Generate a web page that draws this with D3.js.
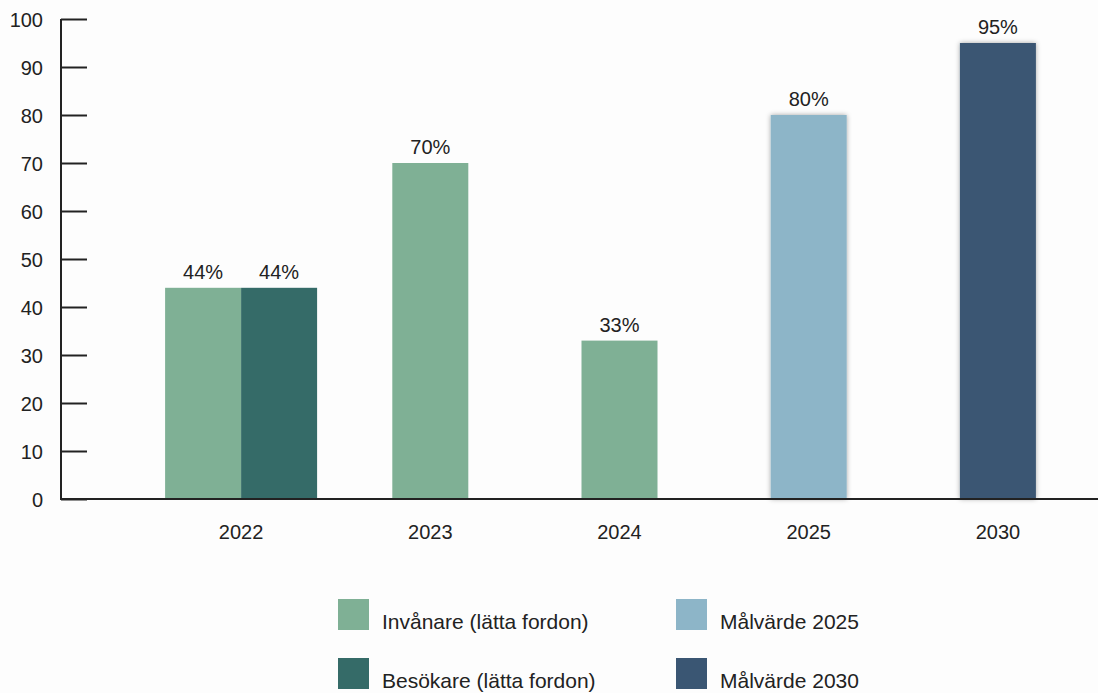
<!DOCTYPE html>
<html>
<head>
<meta charset="utf-8">
<script src="https://cdn.jsdelivr.net/npm/d3@7"></script>
<style>
  body { margin: 0; background: #fdfdfd; }
  text { font-family: "Liberation Sans", Arial, sans-serif; fill: #222; }
</style>
</head>
<body>
<div id="chart"></div>
<script>
// data
var categories = ["2022", "2023", "2024", "2025", "2030"];
var invanare   = [44, 70, 33, null, null];
var besokare   = [44, null, null, null, null];
var mal2025    = [null, null, null, 80, null];
var mal2030    = [null, null, null, null, 95];
var yTicks = [0, 10, 20, 30, 40, 50, 60, 70, 80, 90, 100];

var seriesNames = ["Invånare (lätta fordon)", "Besökare (lätta fordon)", "Målvärde 2025", "Målvärde 2030"];
var seriesVals = [invanare, besokare, mal2025, mal2030];
var colors = ["#7fb095", "#356b68", "#8db5c8", "#3a5673"];
var shadowed = [false, false, true, true];

var width = 1098, height = 693;
var svg = d3.select("#chart").append("svg").attr("width", width).attr("height", height);

var defs = svg.append("defs");
var f = defs.append("filter").attr("id", "shadow").attr("x", "-20%").attr("y", "-20%").attr("width", "140%").attr("height", "140%");
f.append("feDropShadow").attr("dx", 0).attr("dy", 0).attr("stdDeviation", 2.5).attr("flood-color", "#000").attr("flood-opacity", 0.35);

var x = d3.scaleBand().domain(categories).range([146.5, 1092.5]);
var y = d3.scaleLinear().domain([0, 100]).range([499, 19]);
var barW = 76;

// y axis
var yAxis = svg.append("g").attr("transform", "translate(61,0)")
  .call(d3.axisRight(y).tickValues(yTicks).tickSize(26).tickPadding(0).tickFormat(d3.format("d")));
yAxis.select(".domain").remove();
yAxis.selectAll("line").attr("stroke", "#222").attr("stroke-width", 2);
yAxis.selectAll("text").attr("x", -18).attr("text-anchor", "end").attr("dy", "0.35em").style("font-size", "20px");
svg.append("line").attr("x1", 61).attr("x2", 61).attr("y1", y(100)).attr("y2", y(0)).attr("stroke", "#222").attr("stroke-width", 2);

// bars
var bars = [];
categories.forEach(function(c, i) {
  var present = [];
  seriesVals.forEach(function(s, j) { if (s[i] != null) present.push(j); });
  var inner = d3.scaleBand().domain(present).range([0, barW * present.length]);
  var start = x(c) + x.bandwidth() / 2 - barW * present.length / 2;
  present.forEach(function(j) {
    bars.push({ cat: c, s: j, v: seriesVals[j][i], x: start + inner(j) });
  });
});

svg.selectAll(".bar").data(bars).enter().append("rect")
  .attr("class", "bar")
  .attr("x", function(d) { return d.x; })
  .attr("y", function(d) { return y(d.v); })
  .attr("width", barW)
  .attr("height", function(d) { return y(0) - y(d.v); })
  .attr("fill", function(d) { return colors[d.s]; })
  .attr("filter", function(d) { return shadowed[d.s] ? "url(#shadow)" : null; });

svg.selectAll(".lbl").data(bars).enter().append("text")
  .attr("class", "lbl")
  .attr("x", function(d) { return d.x + barW / 2; })
  .attr("y", function(d) { return y(d.v) - 9; })
  .attr("text-anchor", "middle")
  .style("font-size", "20px")
  .text(function(d) { return d.v + "%"; });

// x axis
svg.append("line").attr("x1", 60).attr("x2", width).attr("y1", y(0)).attr("y2", y(0)).attr("stroke", "#222").attr("stroke-width", 2);
svg.selectAll(".xl").data(categories).enter().append("text")
  .attr("x", function(d) { return x(d) + x.bandwidth() / 2; })
  .attr("y", 539)
  .attr("text-anchor", "middle")
  .style("font-size", "20px")
  .text(function(d) { return d; });

// legend
var legPos = [[338, 599], [338, 658], [676, 599], [676, 658]];
seriesNames.forEach(function(n, j) {
  var g = svg.append("g").attr("transform", "translate(" + legPos[j][0] + "," + legPos[j][1] + ")");
  g.append("rect").attr("width", 31).attr("height", 31).attr("fill", colors[j]);
  g.append("text").attr("x", 44).attr("y", 30).style("font-size", "21px").text(n);
});
</script>
</body>
</html>
